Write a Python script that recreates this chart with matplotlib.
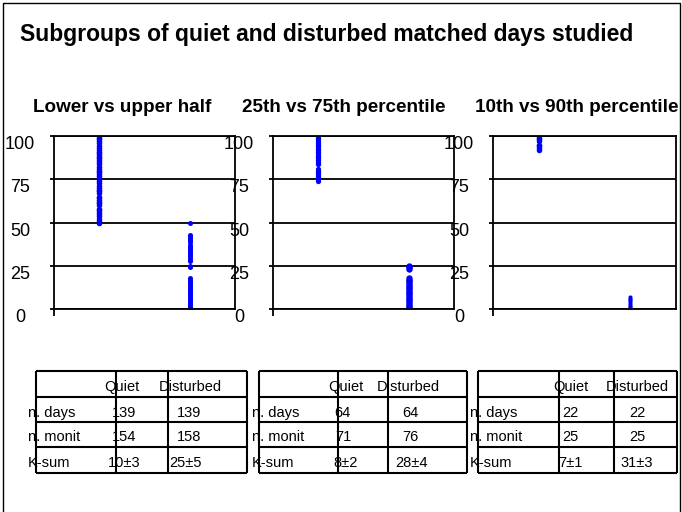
import matplotlib
matplotlib.use("Agg")
import matplotlib.pyplot as plt

plt.rcParams['font.family'] = ['Liberation Sans', 'DejaVu Sans']

## Datos
titulo = 'Subgroups of quiet and disturbed matched days studied'
subtitulos = ['Lower vs upper half', '25th vs 75th percentile', '10th vs 90th percentile']
yticks = [0, 25, 50, 75, 100]
ylabels = ['0', '25', '50', '75', '100']

# percentiles de cada dia (quiet en x=1, disturbed en x=2)
quiet_1 = [100, 99, 98, 97, 96, 94, 93, 92, 91, 90, 89, 88, 87, 86, 85, 84,
           82, 81, 80, 79, 78, 77, 76, 75, 74, 73, 71, 70, 69, 68, 67,
           65, 64, 63, 62, 61, 60, 58, 57, 56, 55, 54, 52, 51, 50]
dist_1 = [50, 43, 42, 41, 40, 39, 37, 36, 35, 34, 33, 32, 31, 30, 29, 28,
          25, 24, 18, 17, 16, 15, 14, 13, 12, 11, 10, 9, 8, 7, 6, 5, 4, 3, 2, 1, 0]
quiet_2 = [100, 99, 98, 97, 96, 95, 94, 93, 92, 91, 90, 89, 88, 87, 86, 85, 84,
           81, 80, 79, 78, 77, 76, 75, 74]
dist_2 = [25, 24, 23, 18, 17, 16, 15, 14, 13, 12, 11, 10, 9, 8, 7, 6, 5, 4, 3, 2, 1, 0]
quiet_3 = [100, 99, 98, 97, 95, 94, 93, 92]
dist_3 = [7, 6, 5, 4, 3, 2, 1, 0]

quiets = [quiet_1, quiet_2, quiet_3]
dists = [dist_1, dist_2, dist_3]

cabecera = ['Quiet', 'Disturbed']
filas = ['n. days', 'n. monit', 'K-sum']
tabla_quiet = [['139', '154', '10±3'], ['64', '71', '8±2'], ['22', '25', '7±1']]
tabla_dist = [['139', '158', '25±5'], ['64', '76', '28±4'], ['22', '25', '31±3']]

## Figura en pixeles
W, H = 682, 512
fig = plt.figure(figsize=(W / 100., H / 100.), dpi=100)
fig.patch.set_facecolor('white')


def ejes_px(left, top, right, bottom):
    return fig.add_axes([left / W, 1 - bottom / H, (right - left) / W, (bottom - top) / H])


# capa de fondo en coordenadas de pixel
fondo = fig.add_axes([0, 0, 1, 1])
fondo.set_xlim(0, W)
fondo.set_ylim(H, 0)
fondo.axis('off')
fondo.plot([3, 3, 680, 680], [515, 3, 3, 515], color='black', lw=1.0)
fondo.text(20, 35, titulo, fontsize=16.5, fontweight='bold', va='center')

sub_x = [33, 242, 475]
for x, s in zip(sub_x, subtitulos):
    fondo.text(x, 108, s, fontsize=13.6, fontweight='bold', va='center')

## Los tres graficos
paneles = [(54, 235), (273, 454), (493, 676)]
tam_q = [4.0, 3.8, 4.0]
tam_d = [3.6, 4.6, 3.0]
for i, (l, r) in enumerate(paneles):
    ax = ejes_px(l, 136, r, 309)
    ax.patch.set_alpha(0)
    ax.plot([1] * len(quiets[i]), quiets[i], 'o', color='#0000FF', ms=tam_q[i], mec='none')
    ax.plot([2] * len(dists[i]), dists[i], 'o', color='#0000FF', ms=tam_d[i], mec='none')
    ax.set_xlim(0.5, 2.5)
    ax.set_ylim(0, 100)
    ax.set_yticks(yticks)
    ax.set_yticklabels(ylabels, ha='center', va='top', fontsize=13)
    ax.tick_params(axis='y', length=3, width=1.3, pad=21.5)
    ax.set_xticks([0.5])
    ax.set_xticklabels([''])
    ax.tick_params(axis='x', length=5, width=1.3)
    ax.grid(axis='y', color='black', lw=1.3)
    ax.set_axisbelow(True)
    for sp in ax.spines.values():
        sp.set_linewidth(1.3)

## Tablas
bordes = [[36, 116, 168, 247], [259, 338, 388, 467], [478, 559, 614, 677]]
filas_y = [371, 397, 422, 447, 473]
texto_y = [387, 413, 437, 463]
x_fila = [28, 252, 470]
x_cab = [[104, 159], [328, 377], [553, 606]]
x_q = [[112, 112, 108], [334, 335, 333], [562, 562, 558]]
x_d = [[177, 177, 169], [402, 402, 395], [629, 629, 620]]

for t in range(3):
    b = bordes[t]
    fondo.hlines(filas_y, b[0], b[3], color='black', lw=1.5)
    fondo.vlines(b, filas_y[0], filas_y[-1], color='black', lw=1.5)
    fs = 10.5
    fondo.text(x_cab[t][0], texto_y[0], cabecera[0], fontsize=fs, va='center')
    fondo.text(x_cab[t][1], texto_y[0], cabecera[1], fontsize=fs, va='center')
    for k in range(3):
        fondo.text(x_fila[t], texto_y[k + 1], filas[k], fontsize=fs, va='center')
        fondo.text(x_q[t][k], texto_y[k + 1], tabla_quiet[t][k], fontsize=fs, va='center')
        fondo.text(x_d[t][k], texto_y[k + 1], tabla_dist[t][k], fontsize=fs, va='center')

fig.savefig('out.png', dpi=100)
